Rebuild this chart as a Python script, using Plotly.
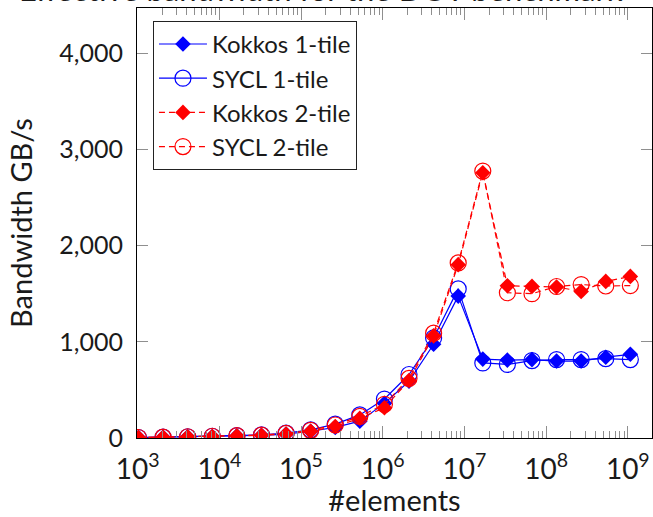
import plotly.graph_objects as go

# ---- data ----
elements = [2 ** k for k in range(10, 31)]
kokkos_1tile = [4, 8, 12, 16, 22, 28, 40, 70, 110, 175, 360, 590, 975, 1475,
                820, 810, 815, 800, 800, 840, 870]
sycl_1tile = [5, 9, 13, 18, 24, 32, 50, 85, 145, 240, 405, 660, 1040, 1550,
              780, 765, 805, 815, 815, 825, 815]
kokkos_2tile = [4, 8, 12, 16, 22, 28, 40, 70, 120, 205, 315, 597, 1062, 1802,
                2757, 1583, 1576, 1570, 1524, 1628, 1680]
sycl_2tile = [5, 9, 13, 18, 24, 30, 48, 80, 135, 225, 350, 620, 1090, 1820,
              2775, 1510, 1500, 1575, 1595, 1580, 1585]

x_tick_vals = [1e3, 1e4, 1e5, 1e6, 1e7, 1e8, 1e9]
x_tick_text = ["10<sup>%d</sup>" % e for e in range(3, 10)]
y_tick_vals = [0, 1000, 2000, 3000, 4000]
title_text = "Effective bandwidth for the DOT benchmark"

FONT = "Lato, 'Open Sans', sans-serif"
BLUE = "#0000ff"
RED = "#ff0000"
TICKC = "#8f8f8f"
TXT = "#1a1a1a"

minor_vals = [m * 10 ** e for e in range(2, 10) for m in range(2, 10)]

fig = go.Figure()
fig.add_trace(go.Scatter(
    x=elements, y=kokkos_1tile, name="Kokkos 1-tile", mode="lines+markers",
    line=dict(color=BLUE, width=1.2),
    marker=dict(symbol="diamond", size=12, color=BLUE, line=dict(width=0))))
fig.add_trace(go.Scatter(
    x=elements, y=sycl_1tile, name="SYCL 1-tile", mode="lines+markers",
    line=dict(color=BLUE, width=1.2),
    marker=dict(symbol="circle-open", size=16, color=BLUE, line=dict(width=1.2))))
fig.add_trace(go.Scatter(
    x=elements, y=kokkos_2tile, name="Kokkos 2-tile", mode="lines+markers",
    line=dict(color=RED, width=1.2, dash="6px,4px"),
    marker=dict(symbol="diamond", size=12, color=RED, line=dict(width=0))))
fig.add_trace(go.Scatter(
    x=elements, y=sycl_2tile, name="SYCL 2-tile", mode="lines+markers",
    line=dict(color=RED, width=1.2, dash="6px,4px"),
    marker=dict(symbol="circle-open", size=16, color=RED, line=dict(width=1.2))))

fig.update_layout(
    width=653, height=517,
    margin=dict(l=137, r=1, t=8, b=79, autoexpand=False),
    paper_bgcolor="white", plot_bgcolor="white",
    font=dict(family=FONT, color=TXT),
    showlegend=True,
    legend=dict(
        x=0.031, y=0.970, xanchor="left", yanchor="top",
        bgcolor="white", bordercolor="#222", borderwidth=1,
        font=dict(size=24, family=FONT, color=TXT),
        itemwidth=48, tracegroupgap=0,
    ),
    annotations=[dict(
        text=title_text, xref="paper", yref="paper",
        x=(625 - 137) / 515, y=1 - 2 / 430, xanchor="right", yanchor="bottom",
        showarrow=False, font=dict(size=31, family=FONT, color=TXT))],
)

fig.update_xaxes(
    type="log", range=[2.992, 9.296],
    tickvals=x_tick_vals, ticktext=x_tick_text,
    ticks="inside", ticklen=12, tickcolor=TICKC, tickwidth=1,
    minor=dict(tickvals=minor_vals, ticks="inside", ticklen=7,
               tickcolor=TICKC, tickwidth=1, showgrid=False),
    showline=True, linecolor="black", linewidth=1, mirror="ticks",
    showgrid=False, zeroline=False, automargin=False,
    tickfont=dict(size=28, family=FONT, color=TXT),
    ticklabelstandoff=6,
    title=dict(text="#elements", font=dict(size=29, family=FONT, color=TXT),
               standoff=12),
)
fig.update_yaxes(
    range=[0, 4470],
    tickvals=y_tick_vals, tickformat=",d",
    ticks="inside", ticklen=11, tickcolor=TICKC, tickwidth=1,
    showline=True, linecolor="black", linewidth=1, mirror="ticks",
    showgrid=False, zeroline=False, automargin=False,
    tickfont=dict(size=25, family=FONT, color=TXT),
    ticklabelstandoff=8,
    title=dict(text="Bandwidth GB/s", font=dict(size=29, family=FONT, color=TXT),
               standoff=18),
)

fig.write_html("out.html")
